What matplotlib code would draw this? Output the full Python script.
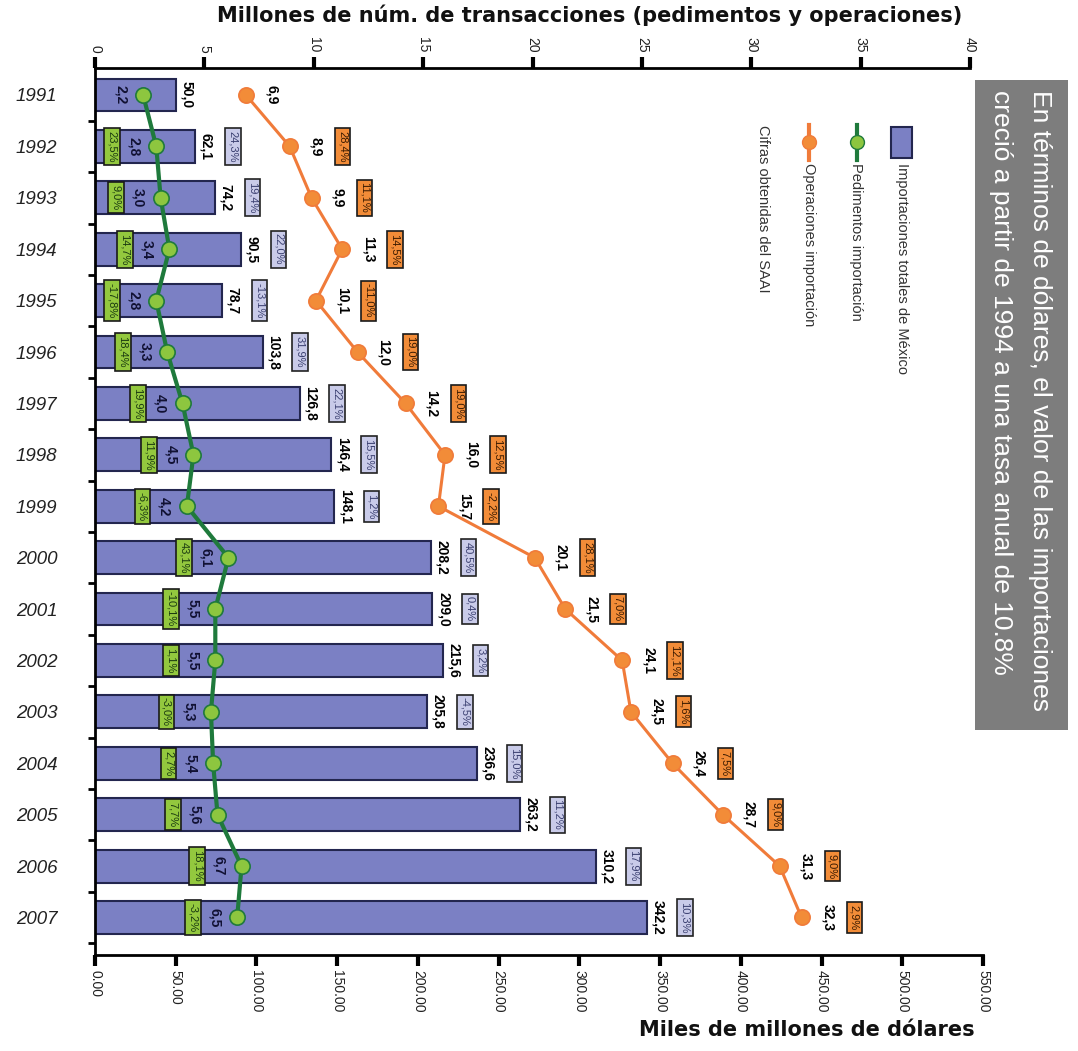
import matplotlib
matplotlib.use('Agg')
import matplotlib.pyplot as plt
import numpy as np
from matplotlib.patches import Rectangle
from matplotlib.lines import Line2D

years = ['1991', '1992', '1993', '1994', '1995', '1996', '1997', '1998', '1999',
         '2000', '2001', '2002', '2003', '2004', '2005', '2006', '2007']
# miles de millones de dolares
importaciones = [50.0, 62.1, 74.2, 90.5, 78.7, 103.8, 126.8, 146.4, 148.1,
                 208.2, 209.0, 215.6, 205.8, 236.6, 263.2, 310.2, 342.2]
imp_pct = ['', '24,3%', '19,4%', '22,0%', '-13,1%', '31,9%', '22,1%', '15,5%', '1,2%',
           '40,5%', '0,4%', '3,2%', '-4,5%', '15,0%', '11,2%', '17,9%', '10,3%']
# millones de transacciones
pedimentos = [2.2, 2.8, 3.0, 3.4, 2.8, 3.3, 4.0, 4.5, 4.2,
              6.1, 5.5, 5.5, 5.3, 5.4, 5.6, 6.7, 6.5]
ped_pct = ['', '23,5%', '9,0%', '14,7%', '-17,8%', '18,4%', '19,9%', '11,9%', '-6,3%',
           '43,1%', '-10,1%', '1,1%', '-3,0%', '2,7%', '7,7%', '18,1%', '-3,2%']
operaciones = [6.9, 8.9, 9.9, 11.3, 10.1, 12.0, 14.2, 16.0, 15.7,
               20.1, 21.5, 24.1, 24.5, 26.4, 28.7, 31.3, 32.3]
ope_pct = ['', '28,4%', '11,1%', '14,5%', '-11,0%', '19,0%', '19,0%', '12,5%', '-2,2%',
           '28,1%', '7,0%', '12,1%', '1,6%', '7,5%', '9,0%', '9,0%', '2,9%']

bottom_ticks = np.arange(0, 551, 50)
top_ticks = np.arange(0, 41, 5)

SANS = ['Liberation Sans', 'DejaVu Sans']

bar_fc = '#7b80c4'
bar_ec = '#23264f'
green = '#1f7a3c'
green_fill = '#8dc63f'
orange = '#f07b3a'
orange_fill = '#f28c38'

W, H = 1078, 1051
fig = plt.figure(figsize=(W / 100, H / 100), dpi=100)


def fx(px):
    return px / W


def fy(py):
    return 1 - py / H


def fmt(v):
    return ('%.1f' % v).replace('.', ',')


# ejes principales (barras, eje inferior)
ax = fig.add_axes([fx(95), fy(955), fx(983) - fx(95), fy(68) - fy(955)])
# eje superior (transacciones)
ax2 = fig.add_axes([fx(95), fy(955), fx(970) - fx(95), fy(68) - fy(955)])
ax2.patch.set_visible(False)

y = np.arange(len(years))
ylim = (16.73, -0.525)

ax.barh(y, importaciones, height=0.64, color=bar_fc, edgecolor=bar_ec, linewidth=1.5)
ax.set_xlim(0, 550)
ax.set_ylim(*ylim)
for s in ['top', 'right']:
    ax.spines[s].set_visible(False)
for s in ['left', 'bottom']:
    ax.spines[s].set_linewidth(2)
ax.set_xticks(bottom_ticks)
ax.set_xticklabels(['%.2f' % t for t in bottom_ticks], rotation=-90,
                   fontsize=10, family=SANS, color='#222222')
ax.tick_params(axis='x', length=8, width=3, pad=3)
ax.set_yticks(y)
ax.set_yticklabels(years, fontstyle='italic', fontsize=13.5, family=SANS, color='#222222')
ax.tick_params(axis='y', which='major', length=0, pad=27)
ax.set_yticks(np.arange(0.5, 17, 1), minor=True)
ax.tick_params(axis='y', which='minor', length=5, width=2, direction='out')

for i, v in enumerate(importaciones):
    ax.annotate(fmt(v), (v, i), xytext=(8, 0), textcoords='offset points',
                rotation=-90, ha='center', va='center', fontsize=10,
                fontweight='bold', family=SANS)
    if imp_pct[i]:
        ax.annotate(imp_pct[i], (v, i), xytext=(27, 0), textcoords='offset points',
                    rotation=-90, ha='center', va='center', fontsize=8,
                    family=SANS, color='#3a3f70',
                    bbox=dict(boxstyle='square,pad=0.25', fc='#c9cbe9', ec='#222222', lw=1.2))

# lineas en eje superior
ax2.plot(pedimentos, y, color=green, lw=3, marker='o', ms=11,
         mfc=green_fill, mec=green, mew=1.2, zorder=3)
ax2.plot(operaciones, y, color=orange, lw=2.2, marker='o', ms=11,
         mfc=orange_fill, mec=orange, mew=1.2, zorder=3)
ax2.set_xlim(0, 40)
ax2.set_ylim(*ylim)
ax2.xaxis.tick_top()
ax2.set_yticks([])
for s in ['left', 'right', 'bottom']:
    ax2.spines[s].set_visible(False)
ax2.spines['top'].set_linewidth(2)
ax2.set_xticks(top_ticks)
ax2.set_xticklabels([str(t) for t in top_ticks], rotation=-90, fontsize=10,
                    family=SANS, color='#222222')
ax2.tick_params(axis='x', length=8, width=3, pad=3)

for i, v in enumerate(pedimentos):
    ax2.annotate(fmt(v), (v, i), xytext=(-16, 0), textcoords='offset points',
                 rotation=-90, ha='center', va='center', fontsize=10,
                 fontweight='bold', family=SANS, color='#111133')
    if ped_pct[i]:
        ax2.annotate(ped_pct[i], (v, i), xytext=(-32, 0), textcoords='offset points',
                     rotation=-90, ha='center', va='center', fontsize=8,
                     family=SANS, color='#1a3a10',
                     bbox=dict(boxstyle='square,pad=0.25', fc='#93c83e', ec='#1a1a1a', lw=1.2))

for i, v in enumerate(operaciones):
    ax2.annotate(fmt(v), (v, i), xytext=(19, 0), textcoords='offset points',
                 rotation=-90, ha='center', va='center', fontsize=10,
                 fontweight='bold', family=SANS)
    if ope_pct[i]:
        ax2.annotate(ope_pct[i], (v, i), xytext=(38, 0), textcoords='offset points',
                     rotation=-90, ha='center', va='center', fontsize=8,
                     family=SANS, color='#3a1a00',
                     bbox=dict(boxstyle='square,pad=0.25', fc=orange_fill, ec='#1a1a1a', lw=1.2))

# titulos de ejes
fig.text(fx(590), fy(15), 'Millones de núm. de transacciones (pedimentos y operaciones)',
         ha='center', va='center', fontsize=15, fontweight='bold', color='#111111')
fig.text(fx(975), fy(1030), 'Miles de millones de dólares', ha='right', va='center',
         fontsize=15, fontweight='bold', color='#111111')

# leyenda (rotada)
fig.add_artist(Rectangle((fx(891), fy(158)), fx(912) - fx(891), fy(127) - fy(158),
                         fc=bar_fc, ec=bar_ec, lw=1.5))
fig.text(fx(902), fy(163), 'Importaciones totales de México', rotation=-90,
         ha='center', va='top', fontsize=10.5, family=SANS, color='#333333')
fig.add_artist(Line2D([fx(857), fx(857)], [fy(125), fy(160)], color=green, lw=3))
fig.add_artist(Line2D([fx(857)], [fy(142)], marker='o', ms=10, mfc=green_fill, mec=green))
fig.text(fx(856), fy(163), 'Pedimentos importación', rotation=-90,
         ha='center', va='top', fontsize=10.5, family=SANS, color='#333333')
fig.add_artist(Line2D([fx(809), fx(809)], [fy(125), fy(160)], color=orange, lw=3))
fig.add_artist(Line2D([fx(809)], [fy(142)], marker='o', ms=10, mfc=orange_fill, mec=orange))
fig.text(fx(809), fy(163), 'Operaciones importación', rotation=-90,
         ha='center', va='top', fontsize=10.5, family=SANS, color='#333333')
fig.text(fx(763), fy(125), 'Cifras obtenidas del SAAI', rotation=-90,
         ha='center', va='top', fontsize=10.5, family=SANS, color='#333333')

# recuadro gris
fig.add_artist(Rectangle((fx(975), fy(730)), fx(1068) - fx(975), fy(80) - fy(730),
                         fc='#7d7d7d', ec='none'))
fig.text(fx(1040), fy(90), 'En términos de dólares, el valor de las importaciones',
         rotation=-90, ha='center', va='top', fontsize=19, family=SANS, color='white')
fig.text(fx(1001), fy(90), 'creció a partir de 1994 a una tasa anual de 10.8%',
         rotation=-90, ha='center', va='top', fontsize=19, family=SANS, color='white')

fig.savefig('out.png', dpi=100)
